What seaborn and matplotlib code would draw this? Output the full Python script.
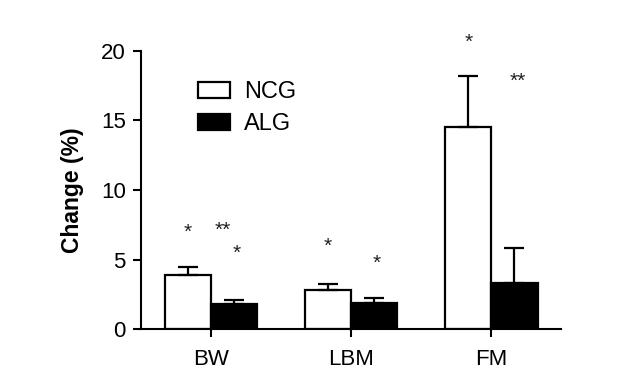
import numpy as np
import pandas as pd
import matplotlib
matplotlib.use("Agg")
import matplotlib.pyplot as plt
import seaborn as sns
from matplotlib.patches import Patch

categories = ["BW", "LBM", "FM"]
groups = ["NCG", "ALG"]
ncg_values = [3.9, 2.82, 14.5]
alg_values = [1.82, 1.9, 3.3]
ncg_err = [0.6, 0.42, 3.7]
alg_err = [0.28, 0.37, 2.5]
ncg_stars = ["*", "*", "*"]
ncg_star_y = [6.95, 5.95, 20.6]
alg_stars = [["**", "*"], ["*"], ["**"]]
alg_star_y = [[7.1, 5.45], [4.75], [17.8]]
alg_star_dx = [[-0.085, 0.02], [0.02], [0.02]]

sns.set_style("ticks")
plt.rcParams["font.family"] = ["Liberation Sans", "DejaVu Sans"]
for k in ["text.color", "axes.labelcolor", "xtick.color", "ytick.color", "axes.edgecolor"]:
    plt.rcParams[k] = "black"

df = pd.DataFrame({
    "cat": categories * 2,
    "group": [groups[0]] * 3 + [groups[1]] * 3,
    "val": ncg_values + alg_values,
})

fig = plt.figure(figsize=(6.38, 3.91), dpi=100)
ax = fig.add_axes([0.221, 0.158, 0.659, 0.712])
sns.barplot(data=df, x="cat", y="val", hue="group", hue_order=groups,
            palette={"NCG": "white", "ALG": "black"}, edgecolor="black",
            linewidth=1.6, width=0.66, errorbar=None, legend=False, ax=ax,
            saturation=1)

for cont, vals, errs in zip(ax.containers, [ncg_values, alg_values], [ncg_err, alg_err]):
    xs = [b.get_x() + b.get_width() / 2 for b in cont]
    ax.errorbar(xs, vals, yerr=[np.zeros(len(vals)), errs], fmt="none",
                ecolor="black", elinewidth=1.6, capsize=7.5, capthick=1.6, zorder=5)

ncg_x = [b.get_x() + b.get_width() / 2 for b in ax.containers[0]]
alg_x = [b.get_x() + b.get_width() / 2 for b in ax.containers[1]]
star_kw = dict(ha="center", va="center", fontsize=15, clip_on=False, color="#222222")
for x, s, y in zip(ncg_x, ncg_stars, ncg_star_y):
    ax.text(x, y, s, **star_kw)
for x, ss, ys, dxs in zip(alg_x, alg_stars, alg_star_y, alg_star_dx):
    for s, y, dx in zip(ss, ys, dxs):
        ax.text(x + dx, y, s, **star_kw)

ax.set_xlim(-0.5, 2.5)
ax.set_ylim(0, 20)
ax.set_yticks([0, 5, 10, 15, 20])
ax.set_xlabel("")
ax.set_ylabel("Change (%)", fontsize=16.5, fontweight="bold", labelpad=12)
ax.tick_params(axis="both", labelsize=16, width=1.5, length=6, direction="out")
ax.tick_params(axis="x", pad=8)
ax.tick_params(axis="y", pad=5)
sns.despine(ax=ax)
for sp in ["left", "bottom"]:
    ax.spines[sp].set_linewidth(1.5)

handles = [Patch(facecolor="white", edgecolor="black", linewidth=1.6, label="NCG"),
           Patch(facecolor="black", edgecolor="black", linewidth=1.6, label="ALG")]
ax.legend(handles=handles, loc="upper left", bbox_to_anchor=(0.135, 0.892),
          frameon=False, fontsize=17, handlelength=1.36, handleheight=0.68,
          handletextpad=0.6, labelspacing=0.43, borderpad=0, borderaxespad=0)

fig.savefig("out.png", dpi=100)
